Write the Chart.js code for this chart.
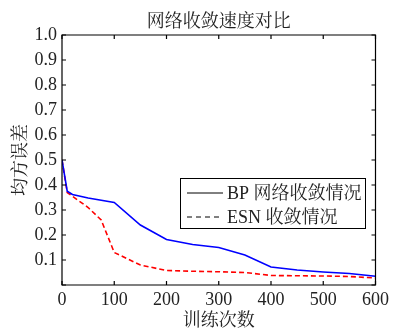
<!DOCTYPE html>
<html>
<head>
<meta charset="utf-8">
<script src="https://cdn.jsdelivr.net/npm/chart.js@4/dist/chart.umd.min.js"></script>
<style>
html,body{margin:0;padding:0;background:#fff;}
canvas{display:block;}
</style>
</head>
<body>
<canvas id="c" width="393" height="329"></canvas>
<script>
// ---- data ----
const chartTitle = '网络收敛速度对比';
const xTitle = '训练次数';
const yTitle = '均方误差';
const bpLabel = 'BP 网络收敛情况';
const esnLabel = 'ESN 收敛情况';
const bpX = [0, 10, 20, 50, 100, 150, 200, 250, 300, 350, 400, 450, 500, 550, 600];
const bpY = [0.50, 0.375, 0.362, 0.348, 0.330, 0.240, 0.182, 0.162, 0.150, 0.120, 0.072, 0.060, 0.052, 0.046, 0.035];
const esnX = [0, 10, 20, 50, 75, 100, 150, 200, 250, 300, 350, 400, 450, 500, 550, 600];
const esnY = [0.50, 0.37, 0.355, 0.31, 0.26, 0.13, 0.08, 0.058, 0.055, 0.053, 0.05, 0.038, 0.037, 0.036, 0.034, 0.028];
const xTicks = [0, 100, 200, 300, 400, 500, 600];
const xTickLabels = ['0', '100', '200', '300', '400', '500', '600'];
const yTicks = [0, 0.1, 0.2, 0.3, 0.4, 0.5, 0.6, 0.7, 0.8, 0.9, 1.0];
const yTickLabels = ['', '0.1', '0.2', '0.3', '0.4', '0.5', '0.6', '0.7', '0.8', '0.9', '1.0'];

const FONT = '"Liberation Serif", "Times New Roman", "Noto Serif CJK SC", "Noto Sans CJK SC", serif';
const TXT = '#222';

const toPts = (xs, ys) => xs.map((x, i) => ({x: x, y: ys[i]}));

const frameTicks = {
  id: 'frameTicks',
  afterDatasetsDraw(chart) {
    const {ctx, chartArea: a, scales: {x, y}} = chart;
    ctx.save();
    ctx.strokeStyle = '#000';
    ctx.lineWidth = 1.2;
    ctx.beginPath();
    ctx.rect(a.left, a.top, a.right - a.left, a.bottom - a.top);
    ctx.stroke();
    const L = 4;
    ctx.beginPath();
    xTicks.forEach(v => {
      const px = x.getPixelForValue(v);
      ctx.moveTo(px, a.bottom); ctx.lineTo(px, a.bottom - L);
      ctx.moveTo(px, a.top); ctx.lineTo(px, a.top + L);
    });
    yTicks.forEach(v => {
      const py = y.getPixelForValue(v);
      ctx.moveTo(a.left, py); ctx.lineTo(a.left + L, py);
      ctx.moveTo(a.right, py); ctx.lineTo(a.right - L, py);
    });
    ctx.stroke();

    // legend
    const bx = a.left + 118, by = a.top + 143, bw = 185, bh = 50;
    ctx.fillStyle = '#fff';
    ctx.fillRect(bx, by, bw, bh);
    ctx.lineWidth = 1;
    ctx.strokeStyle = '#000';
    ctx.strokeRect(bx + 0.5, by + 0.5, bw, bh);
    ctx.font = '18px ' + FONT;
    ctx.fillStyle = TXT;
    ctx.textBaseline = 'middle';
    ctx.textAlign = 'left';
    const rows = [
      {label: chart.data.datasets[0].label, dash: []},
      {label: chart.data.datasets[1].label, dash: [5, 4]}
    ];
    rows.forEach((r, i) => {
      const ry = by + 15 + i * 24;
      ctx.setLineDash(r.dash);
      ctx.beginPath();
      ctx.moveTo(bx + 7, ry); ctx.lineTo(bx + 43, ry);
      ctx.stroke();
      ctx.setLineDash([]);
      ctx.fillText(r.label, bx + 47, ry + 1);
    });
    ctx.restore();
  }
};

new Chart(document.getElementById('c'), {
  type: 'line',
  data: {
    datasets: [
      {label: bpLabel, data: toPts(bpX, bpY), borderColor: '#0000ff', borderWidth: 1.6, pointRadius: 0, fill: false, tension: 0},
      {label: esnLabel, data: toPts(esnX, esnY), borderColor: '#ff0000', borderWidth: 1.6, borderDash: [5, 3], pointRadius: 0, fill: false, tension: 0}
    ]
  },
  options: {
    responsive: false,
    animation: false,
    devicePixelRatio: 1,
    layout: {padding: {left: 0, right: 15, top: 0, bottom: 0}},
    plugins: {
      legend: {display: false},
      tooltip: {enabled: false},
      title: {
        display: true, text: chartTitle, fullSize: false,
        color: TXT, font: {family: FONT, size: 18, weight: 'normal', lineHeight: 1.2},
        padding: {top: 11.5, bottom: 1.9}
      }
    },
    scales: {
      x: {
        type: 'linear', min: 0, max: 600,
        afterBuildTicks: s => { s.ticks = xTicks.map(v => ({value: v})); },
        afterFit: s => { s.height = 44; },
        ticks: {
          callback: (v) => xTickLabels[xTicks.indexOf(v)],
          color: TXT, font: {family: FONT, size: 18}, padding: 4, maxRotation: 0, autoSkip: false
        },
        grid: {display: true, drawOnChartArea: false, drawTicks: false},
        border: {display: false},
        title: {display: true, text: xTitle, color: TXT, font: {family: FONT, size: 18}, padding: {top: 0, bottom: -3}}
      },
      y: {
        type: 'linear', min: 0, max: 1,
        afterBuildTicks: s => { s.ticks = yTicks.map(v => ({value: v})); },
        afterFit: s => { s.width = 62; },
        ticks: {
          callback: (v) => { const i = yTicks.findIndex(t => Math.abs(t - v) < 1e-9); return i >= 0 ? yTickLabels[i] : ''; },
          color: TXT, font: {family: FONT, size: 18}, padding: 5, autoSkip: false
        },
        grid: {display: true, drawOnChartArea: false, drawTicks: false},
        border: {display: false},
        title: {display: true, text: yTitle, color: TXT, font: {family: FONT, size: 18}, padding: {top: 10, bottom: 0}}
      }
    }
  },
  plugins: [frameTicks]
});
</script>
</body>
</html>
